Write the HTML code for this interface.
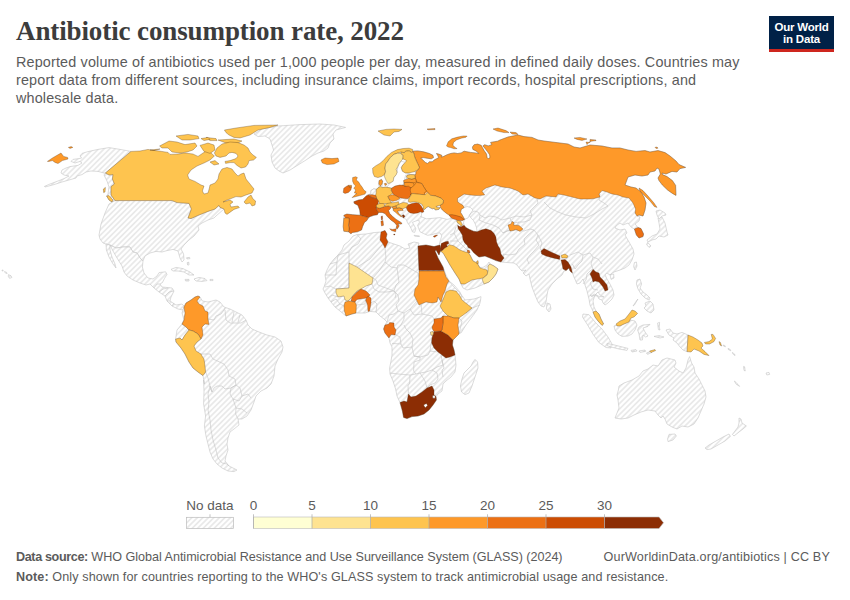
<!DOCTYPE html>
<html lang="en">
<head>
<meta charset="utf-8">
<title>Antibiotic consumption rate, 2022</title>
<style>
html,body{margin:0;padding:0;background:#fff;}
body{width:850px;height:600px;position:relative;overflow:hidden;font-family:"Liberation Sans",sans-serif;color:#5b5b5b;}
#title{position:absolute;left:16px;top:15.4px;font-family:"Liberation Serif",serif;font-weight:bold;font-size:27px;line-height:32px;color:#3c3c3c;white-space:nowrap;letter-spacing:-0.11px;}
#sub{position:absolute;left:16px;top:53px;font-size:14.4px;line-height:18px;color:#5b5b5b;white-space:nowrap;letter-spacing:0.155px;}
#logo{position:absolute;left:769px;top:16px;width:65px;height:33px;background:#002147;border-bottom:3px solid #ce261e;color:#fff;font-weight:bold;font-size:11.5px;line-height:12px;text-align:center;letter-spacing:-0.2px;}
#logo span{display:block;}
#logo span:first-child{margin-top:4.5px;}
.foot{position:absolute;left:16px;font-size:12.6px;line-height:16px;color:#5b5b5b;white-space:nowrap;}
.foot b{font-weight:bold;}
#f1 b{letter-spacing:-0.37px;}
#f1{top:548.5px;}
#f2{top:568.5px;letter-spacing:0.11px;}
#f3{top:548.5px;left:auto;right:20px;letter-spacing:0.17px;}
#map{position:absolute;left:0;top:0;}
.lg{font-size:13.5px;fill:#5b5b5b;font-family:"Liberation Sans",sans-serif;}
</style>
</head>
<body>
<div id="title">Antibiotic consumption rate, 2022</div>
<div id="sub">Reported volume of antibiotics used per 1,000 people per day, measured in defined daily doses. Countries may<br>report data from different sources, including insurance claims, import records, hospital prescriptions, and<br>wholesale data.</div>
<div id="logo"><span>Our World</span><span>in Data</span></div>
<svg id="map" width="850" height="600" viewBox="0 0 850 600">
<defs>
<pattern id="hatch" width="11" height="11" patternUnits="userSpaceOnUse">
<rect width="11" height="11" fill="#fff"/>
<path d="M-1 1l2-2M-1 6.5l7.5-7.5M-1 12l13-13M4.5 12l7.5-7.5M10 12l2-2" stroke="#e9e9e9" stroke-width="1.6" fill="none"/>
</pattern>
</defs>
<g id="countries" stroke="#c4c4c4" stroke-width="0.6" stroke-linejoin="round">
<!--MAP-->
<path d="M131.0 151.4L120.0 149.4L109.0 147.6L98.0 149.4L88.0 151.6L82.0 153.4L80.0 156.0L81.6 158.0L79.0 158.6L73.0 159.4L71.0 161.4L75.0 163.0L80.0 161.4L82.0 163.0L78.0 165.4L70.0 166.6L66.0 168.0L62.0 170.0L61.0 173.0L64.0 175.0L69.0 176.0L64.0 178.6L58.0 181.0L50.0 184.0L44.4 186.4L45.0 187.0L54.0 184.6L62.0 182.0L69.0 180.0L76.0 178.0L77.0 176.0L82.0 174.6L86.0 172.0L91.0 171.0L98.0 171.4L104.0 173.0L105.4 173.0Z" fill="url(#hatch)"/>
<path d="M105.4 173.0L109.0 175.0L113.0 174.6L112.4 179.0L114.4 184.0L111.0 186.6L111.0 195.0L115.0 200.6L112.0 202.2L109.0 200.0L106.6 196.0L108.0 194.0L109.0 187.0L107.0 181.0L104.0 175.0Z" fill="url(#hatch)"/>
<path d="M254.0 134.0L262.0 129.0L278.0 126.0L300.0 124.6L320.0 124.0L334.0 125.0L345.6 127.4L336.0 130.0L333.0 134.0L334.0 139.0L330.0 143.0L328.0 148.0L324.0 151.0L318.0 153.0L312.0 156.0L306.0 160.0L298.0 165.0L290.0 170.0L283.0 173.0L279.0 171.0L275.0 168.0L272.0 162.0L271.0 155.0L273.6 150.0L272.0 145.0L270.0 139.0L265.0 136.0L258.0 136.6Z" fill="url(#hatch)"/>
<path d="M115.0 200.6L109.0 204.0L105.0 213.0L101.0 224.0L99.4 233.0L99.0 235.0L100.0 239.0L103.0 243.0L106.0 244.0L110.0 245.0L116.0 248.0L123.0 247.0L130.0 247.0L133.0 252.0L137.0 253.0L140.0 258.0L143.0 261.0L145.0 256.0L150.0 253.0L156.0 251.4L162.0 252.0L167.0 250.6L173.0 249.4L178.0 251.0L180.0 258.0L182.0 262.0L184.0 260.0L183.6 254.0L181.0 249.0L184.0 245.0L189.0 240.0L194.0 236.0L199.0 230.0L198.0 226.0L202.0 223.0L208.0 220.0L214.0 218.0L216.0 216.0L224.0 209.0L220.0 207.4L219.0 205.4L215.0 209.0L208.0 211.4L199.0 215.0L191.0 218.6L188.0 218.0L191.4 209.0L189.0 203.4L177.0 202.6L172.0 200.6L150.0 200.6Z" fill="url(#hatch)"/>
<path d="M106.0 244.0L106.4 250.0L109.0 257.0L113.0 264.0L116.0 268.0L115.0 264.0L112.0 257.0L110.0 250.0L110.0 245.0L113.0 251.0L117.0 258.0L122.0 266.0L124.0 272.0L127.0 276.0L133.0 280.0L140.0 283.0L146.0 285.0L150.0 284.0L154.0 288.0L159.0 292.0L165.0 296.0L167.0 301.0L172.0 306.0L178.0 309.0L183.0 310.0L184.0 307.0L185.0 307.0L182.0 304.0L176.0 305.0L170.0 301.0L171.0 297.0L174.0 291.0L172.0 288.0L162.0 287.0L160.0 284.0L162.4 282.6L164.4 278.6L167.0 274.4L165.6 271.8L159.0 272.6L157.0 276.0L153.0 279.0L148.0 278.0L144.0 273.0L142.4 267.0L143.0 261.0L140.0 258.0L137.0 253.0L133.0 252.0L130.0 247.0L123.0 247.0L116.0 248.0L110.0 245.0Z" fill="url(#hatch)"/>
<path d="M171.0 269.4L176.0 267.4L183.0 268.6L190.0 272.0L194.0 275.0L189.0 275.0L184.0 272.0L178.0 271.0L173.0 271.0Z" fill="url(#hatch)"/>
<path d="M194.0 279.0L199.0 277.4L205.0 278.6L207.0 280.6L202.0 281.4L196.0 281.0Z" fill="url(#hatch)"/>
<path d="M185.0 279.4L189.0 279.4L189.0 281.0L185.6 281.0Z" fill="url(#hatch)"/>
<path d="M210.0 279.4L213.0 279.4L213.0 280.6L210.0 280.6Z" fill="url(#hatch)"/>
<path d="M186.4 257.8L189.6 257.4L190.0 258.6L187.2 259.0Z" fill="url(#hatch)"/>
<path d="M187.2 262.6L188.8 262.2L189.0 265.0L187.6 265.0Z" fill="url(#hatch)"/>
<path d="M184.0 307.0L186.0 303.0L191.0 300.0L195.0 297.0L198.0 296.0L200.0 297.0L202.4 301.0L208.0 302.0L216.0 300.0L220.0 302.0L224.0 307.0L230.0 309.0L236.0 312.0L242.0 315.0L246.0 320.0L248.0 325.0L252.0 329.0L259.0 332.0L267.0 335.0L275.0 337.0L281.0 341.0L283.0 347.0L282.0 352.0L278.0 359.0L275.0 366.0L274.0 376.0L271.0 384.0L271.0 384.0L267.0 388.0L261.0 391.0L256.0 396.0L254.0 402.0L251.0 410.0L247.0 416.0L242.0 419.0L238.0 419.0L239.0 425.0L234.0 429.0L230.0 432.0L228.0 438.0L227.0 444.0L228.0 450.0L226.0 456.0L225.0 461.0L229.0 466.0L237.0 470.0L234.0 471.6L228.0 471.0L222.0 468.0L217.0 464.0L213.0 459.0L210.0 452.0L208.0 444.0L206.0 436.0L204.4 426.0L205.6 416.0L203.6 404.0L204.0 392.0L203.6 380.0L204.4 384.0L203.0 375.6L198.0 372.0L193.0 368.0L189.0 362.0L185.0 354.0L181.0 348.0L176.0 342.0L175.6 339.0L177.0 330.0L182.0 324.0L184.0 320.0L182.0 313.0Z" fill="url(#hatch)"/>
<path d="M357.0 234.6L366.0 234.0L374.0 232.6L381.0 232.0L385.0 230.6L387.0 234.0L386.0 238.0L388.0 242.0L394.0 244.0L400.0 246.0L405.0 249.0L410.0 248.0L408.0 244.0L414.0 242.0L419.0 243.0L418.0 246.0L426.0 245.0L434.0 246.6L440.0 245.0L441.0 249.0L439.0 255.0L436.0 250.0L435.0 251.0L438.0 258.0L443.0 267.0L446.0 275.0L449.0 281.0L454.0 287.0L459.0 292.0L463.0 297.0L465.0 300.0L474.0 299.0L480.0 297.0L481.0 296.6L480.6 300.0L480.0 303.0L477.0 310.0L472.0 317.0L466.0 325.0L461.0 333.0L459.0 333.0L453.0 340.0L452.4 345.0L454.0 350.0L455.0 355.0L456.0 365.0L455.0 372.0L451.0 377.0L446.0 381.0L443.0 384.0L442.0 391.0L438.0 394.0L436.0 396.6L436.4 400.0L433.0 405.0L429.0 410.0L424.0 414.0L418.0 416.0L412.0 416.6L407.0 418.6L403.6 417.4L402.4 411.0L401.0 406.0L400.0 402.6L397.0 396.0L395.6 389.0L393.0 381.0L390.0 374.0L389.6 368.0L391.0 361.0L392.0 355.0L392.0 347.0L390.0 343.0L389.0 338.0L385.0 333.0L383.6 329.0L385.0 325.0L387.0 322.0L384.0 319.0L380.0 316.0L376.0 312.0L370.0 311.4L365.0 313.0L356.0 313.0L352.0 314.0L346.0 316.0L340.0 311.0L335.0 307.0L331.0 302.0L328.0 298.0L325.0 293.0L323.0 289.0L324.0 287.0L326.0 281.0L325.0 275.0L327.0 270.0L330.0 264.0L334.0 259.0L338.0 255.0L342.0 250.0L344.0 245.0L349.0 241.0L353.0 236.0Z" fill="url(#hatch)"/>
<path d="M475.0 359.4L477.6 362.0L478.0 368.0L475.0 377.0L472.0 386.0L469.0 393.0L465.0 394.6L461.6 392.0L460.4 386.0L462.0 379.0L464.0 373.0L467.0 370.0L471.0 366.0L473.0 362.0Z" fill="url(#hatch)"/>
<path d="M370.9 190.6L373.8 188.8L376.2 189.4L376.2 192.4L375.6 195.3L372.6 194.7L370.9 193.5Z" fill="url(#hatch)"/>
<path d="M399.1 201.2L403.2 200.0L407.9 200.0L409.1 201.2L405.6 202.9L400.9 203.5L399.1 202.4Z" fill="url(#hatch)"/>
<path d="M343.8 218.2L343.8 215.3L346.8 214.1L352.6 214.7L360.3 215.3L359.7 210.0L357.9 205.3L354.4 203.5L353.8 201.8L358.5 200.0L362.6 199.4L366.2 195.9L368.5 194.7L370.9 193.5L370.9 190.6L373.8 188.8L376.2 189.4L379.1 187.1L378.8 184.1L379.1 180.6L381.5 179.4L382.6 181.2L382.1 184.1L382.1 187.6L385.6 187.1L388.5 187.6L391.5 188.2L395.0 186.5L399.1 185.3L402.6 185.3L402.4 185.1L403.5 180.6L406.5 179.2L406.5 177.1L407.1 175.3L410.6 174.5L414.7 174.7L415.9 174.1L415.9 171.8L414.1 171.8L412.9 151.2L417.6 150.9L423.5 151.8L429.4 153.5L432.9 155.3L433.5 157.6L431.2 158.8L427.1 158.2L423.5 157.6L420.6 158.2L422.9 160.0L425.3 162.4L427.6 163.5L429.4 161.8L432.4 161.8L434.1 160.0L436.5 158.8L438.8 157.6L437.6 155.3L436.5 153.5L438.8 154.1L441.8 155.3L441.2 157.1L443.5 156.5L447.1 154.7L450.6 153.5L454.1 152.9L457.6 153.5L461.2 152.9L464.1 151.2L467.1 151.8L470.6 152.4L475.3 152.9L478.8 153.5L476.5 151.2L472.9 149.4L472.4 147.1L474.1 144.7L477.6 144.1L481.2 145.3L482.4 147.6L484.1 150.6L486.5 154.1L487.1 157.6L488.2 158.8L490.0 157.6L489.6 154.7L487.6 151.8L485.3 148.8L482.9 145.9L484.7 144.7L488.2 145.9L491.8 144.7L490.6 142.4L494.1 141.8L497.6 141.2L500.0 140.0L508.0 137.0L518.0 135.0L524.0 136.6L532.0 137.4L538.0 140.0L544.0 141.0L552.0 142.0L560.0 143.0L568.0 144.0L574.0 147.0L580.0 148.0L590.0 145.0L590.0 145.0L602.0 146.0L612.0 148.0L620.0 148.0L628.0 150.0L636.0 151.4L645.0 150.6L650.0 152.0L658.0 150.6L665.0 152.6L670.0 156.0L676.0 161.0L679.0 164.6L685.6 167.4L680.0 168.6L677.0 172.0L672.0 171.4L666.0 174.0L662.0 173.0L662.4 174.6L667.0 176.6L672.4 180.6L675.6 185.4L676.0 195.4L672.4 193.4L667.6 190.0L662.4 185.0L659.0 180.6L658.0 178.0L660.4 174.0L659.0 169.0L657.0 168.0L655.0 171.0L650.0 172.0L648.0 175.0L642.0 176.0L635.0 175.0L628.0 177.0L625.0 185.0L631.0 187.0L636.0 188.0L641.0 192.0L644.0 197.0L646.0 203.0L645.0 210.0L643.0 216.0L639.0 215.0L637.0 216.0L640.0 217.0L639.0 221.0L635.0 224.0L638.0 227.4L641.0 228.6L643.6 234.0L643.0 236.6L639.0 238.0L636.4 235.0L634.4 229.0L631.0 227.0L628.0 223.0L623.0 225.0L620.0 223.0L616.0 226.0L615.0 228.0L620.0 230.0L625.0 229.0L627.0 233.0L625.0 235.0L629.0 242.0L633.0 249.0L634.0 254.0L632.0 260.0L629.0 265.0L625.0 268.0L620.0 270.0L614.0 272.0L611.0 274.0L610.0 275.0L607.0 273.0L605.0 275.0L607.0 279.0L610.0 284.0L613.0 290.0L614.0 295.0L612.0 299.0L608.0 303.0L605.0 305.0L603.0 303.0L602.0 300.0L599.0 299.0L597.0 295.0L594.0 294.0L592.0 297.0L590.0 295.0L604.0 297.0L600.0 295.0L598.0 292.0L595.0 295.0L593.0 301.0L594.0 307.0L596.0 311.0L599.0 314.0L601.0 319.0L603.6 324.0L602.0 325.4L598.0 321.0L595.0 317.0L592.0 309.0L590.0 305.0L589.0 299.0L587.0 291.0L585.0 285.0L583.0 279.0L580.0 283.0L577.0 284.0L574.0 277.0L572.4 273.0L570.0 271.0L569.0 268.0L566.0 270.6L564.0 271.0L562.0 275.0L557.0 279.0L552.0 284.0L548.0 290.0L547.0 295.0L546.0 302.0L544.0 307.0L541.0 306.0L538.0 302.0L535.0 295.0L532.0 287.0L530.0 279.0L529.0 274.0L526.0 276.0L523.0 273.0L526.0 270.0L522.0 271.0L520.0 269.0L517.0 265.0L514.0 263.0L508.0 262.6L501.0 262.0L496.0 260.6L490.0 258.0L485.0 256.0L479.0 257.0L475.0 254.0L472.0 249.0L469.0 247.0L467.0 250.0L470.0 255.0L473.0 261.0L477.0 263.0L480.0 267.4L483.0 267.4L487.0 265.0L489.0 262.0L490.0 264.0L494.0 266.0L498.0 269.0L496.0 274.0L493.0 278.0L489.0 282.0L484.0 284.0L475.0 288.0L467.0 290.0L463.0 288.0L461.0 284.0L459.0 279.0L455.0 273.0L450.0 265.0L446.0 258.0L442.0 248.0L440.6 251.2L439.4 248.8L439.4 244.1L440.6 239.4L441.8 235.9L440.0 232.9L435.3 233.5L431.8 234.7L427.6 235.3L423.5 233.5L420.0 231.8L418.8 228.8L417.6 225.3L419.4 222.4L418.8 220.0L415.3 221.2L412.4 222.4L414.1 225.3L415.9 228.8L414.7 232.4L412.4 231.8L411.2 228.8L409.4 225.3L407.6 222.9L406.5 220.0L404.7 218.2L403.2 218.0L402.1 216.5L399.1 214.1L397.4 211.2L395.0 211.8L393.2 208.8L392.1 207.1L390.9 207.1L390.3 208.8L388.5 210.6L389.7 213.5L392.6 216.5L396.2 219.4L400.9 222.4L402.1 223.5L400.3 224.1L397.9 223.5L399.1 225.9L397.4 228.8L396.2 228.2L396.8 225.3L394.4 222.4L390.9 220.0L387.4 216.5L385.0 213.5L382.1 212.4L378.5 212.4L377.4 214.7L373.8 215.3L370.3 216.5L368.5 217.6L366.8 220.6L364.4 222.4L362.6 226.5L361.5 230.0L357.4 231.8L352.6 232.4L350.9 233.8L348.5 231.8L343.8 231.2L343.2 226.5Z" fill="url(#hatch)"/>
<path d="M547.0 303.0L550.0 304.0L551.0 309.0L549.0 312.0L546.4 309.0Z" fill="url(#hatch)"/>
<path d="M610.0 274.6L613.6 274.0L614.0 278.0L611.0 279.4Z" fill="url(#hatch)"/>
<path d="M634.4 262.6L636.4 262.0L637.0 266.0L635.0 270.0L633.6 266.6Z" fill="url(#hatch)"/>
<path d="M658.0 218.0L662.0 217.0L665.0 223.0L667.0 232.0L668.0 235.0L664.0 237.0L659.0 236.0L656.0 239.0L652.0 240.0L648.0 242.0L647.0 240.0L652.0 236.0L657.0 234.0L660.0 229.0L659.0 223.0Z" fill="url(#hatch)"/>
<path d="M647.6 242.4L651.0 246.0L649.0 247.4L646.6 244.6Z" fill="url(#hatch)"/>
<path d="M656.0 211.0L660.0 210.0L665.0 213.0L666.0 215.0L662.0 216.0L659.0 219.0L657.0 215.0Z" fill="url(#hatch)"/>
<path d="M637.0 280.0L640.0 279.0L641.6 284.0L640.0 288.0L643.0 292.0L647.0 295.0L650.0 298.0L649.0 300.0L645.0 298.0L641.0 294.0L638.0 289.0L636.4 284.0Z" fill="url(#hatch)"/>
<path d="M633.0 306.0L637.0 300.0L638.0 299.0L634.4 305.0Z" fill="url(#hatch)"/>
<path d="M645.0 303.0L650.0 301.0L653.0 304.0L654.0 310.0L651.0 313.0L647.0 311.0L644.0 308.0L646.0 306.0Z" fill="url(#hatch)"/>
<path d="M414.1 235.3L419.4 235.9L419.4 236.6L414.7 236.2Z" fill="url(#hatch)"/>
<path d="M614.0 326.0L617.0 325.0L620.0 325.6L626.0 323.0L630.0 320.0L635.0 321.0L637.0 325.0L635.0 330.0L632.0 334.0L628.0 336.0L622.0 336.4L618.0 334.0L615.0 330.0Z" fill="url(#hatch)"/>
<path d="M583.0 314.0L589.0 314.7L595.5 322.6L602.0 329.0L608.0 337.0L612.0 344.0L611.0 348.0L606.0 347.5L598.8 342.4L593.0 334.2L587.2 324.3L582.5 317.0Z" fill="url(#hatch)"/>
<path d="M607.0 343.6L612.0 344.4L620.0 346.4L628.0 348.4L627.0 350.4L619.0 349.0L611.0 347.0L607.0 345.6Z" fill="url(#hatch)"/>
<path d="M639.0 327.0L643.0 325.0L650.0 324.4L648.0 326.4L643.0 328.0L645.0 332.0L648.0 336.0L645.6 337.0L643.0 335.0L642.4 340.0L640.0 340.0L639.0 334.0L637.6 330.0Z" fill="url(#hatch)"/>
<path d="M631.0 350.4L636.0 349.6L637.0 351.0L632.0 352.0Z" fill="url(#hatch)"/>
<path d="M639.0 351.0L645.0 350.0L645.6 351.4L640.0 352.4Z" fill="url(#hatch)"/>
<path d="M646.4 353.0L650.0 351.6L651.6 352.4L647.6 354.4Z" fill="url(#hatch)"/>
<path d="M657.6 323.0L659.6 322.4L659.2 327.0L660.0 330.0L658.4 329.6Z" fill="url(#hatch)"/>
<path d="M654.0 336.4L659.0 335.6L664.0 337.0L660.0 338.0Z" fill="url(#hatch)"/>
<path d="M666.0 330.0L670.0 329.0L673.0 333.0L677.0 334.0L682.0 332.4L688.0 335.0L687.6 343.0L687.0 351.6L683.0 350.0L680.0 347.0L677.0 343.0L673.0 340.0L674.0 338.0L669.0 335.0Z" fill="url(#hatch)"/>
<path d="M619.0 386.0L624.0 383.0L632.0 380.0L639.0 376.0L643.0 371.0L648.0 369.0L653.0 365.0L658.0 366.0L662.0 360.0L667.0 358.0L675.0 360.0L676.0 363.0L674.0 367.0L679.0 371.0L683.0 373.0L686.0 368.0L688.0 360.0L689.6 356.6L691.6 363.0L694.0 367.0L695.0 373.0L699.0 379.0L702.0 385.0L705.0 391.0L706.0 397.0L704.0 404.0L701.0 411.0L698.0 418.0L694.0 424.0L688.0 427.0L682.0 426.0L677.0 429.0L672.0 427.0L667.0 424.0L665.0 419.0L663.0 416.0L661.0 418.0L658.0 415.0L655.0 411.0L648.0 410.0L641.0 412.0L634.0 415.0L628.0 418.0L621.0 419.0L615.0 418.0L617.0 413.0L619.0 408.0L618.0 400.0L617.0 395.0L618.4 390.0Z" fill="url(#hatch)"/>
<path d="M669.0 434.4L675.0 434.0L676.4 436.0L673.0 440.0L668.0 441.6L667.6 439.0Z" fill="url(#hatch)"/>
<path d="M739.0 418.0L741.0 419.0L742.0 423.0L746.4 426.0L743.0 429.0L739.0 432.0L734.0 436.0L732.4 434.4L735.0 431.0L738.0 427.0L739.0 423.0Z" fill="url(#hatch)"/>
<path d="M729.0 434.0L730.4 436.4L725.0 441.0L718.0 445.0L711.0 449.0L707.0 449.6L705.0 448.0L709.0 445.0L716.0 441.0L723.0 437.0Z" fill="url(#hatch)"/>
<path d="M734.4 381.0L738.0 384.4L739.6 386.4L736.0 384.0Z" fill="url(#hatch)"/>
<path d="M723.0 345.0L725.0 345.6L725.4 346.8L723.4 346.0Z" fill="url(#hatch)"/>
<path d="M728.0 348.4L730.4 349.6L730.8 350.8L728.4 349.6Z" fill="url(#hatch)"/>
<path d="M732.4 352.4L734.8 354.4L735.0 355.6L732.6 353.6Z" fill="url(#hatch)"/>
<path d="M743.6 366.4L744.6 366.8L745.2 371.0L744.0 370.4Z" fill="url(#hatch)"/>
<path d="M766.0 373.0L769.0 372.4L769.6 374.4L766.8 375.0Z" fill="url(#hatch)"/>
<path d="M8.4 274.6L11.0 275.8L12.0 277.4L9.6 278.4L8.4 276.6Z" fill="url(#hatch)"/>
<path d="M4.4 271.6L6.4 272.2L7.2 273.4L5.6 273.2Z" fill="url(#hatch)"/>
<path d="M2.0 270.0L3.2 270.2L3.0 271.0L2.0 270.8Z" fill="url(#hatch)"/>
<path d="M464.1 220.0L464.7 219.4L462.4 215.3L460.6 212.4L461.2 209.4L464.1 207.6L467.1 206.5L470.6 207.6L472.9 210.0L470.6 213.5L469.4 215.9L471.2 218.2L473.5 220.6L475.3 224.1L476.5 227.6L477.1 231.8L473.5 231.2L469.4 229.4L465.9 227.6L464.1 225.3L463.5 222.9Z" fill="#fff"/>
<path d="M421.2 216.5L421.8 212.4L423.5 211.8L422.9 208.8L424.7 209.4L426.5 207.6L428.2 206.5L430.0 207.6L432.4 208.8L434.1 208.2L435.3 210.0L438.8 209.4L440.0 207.6L440.6 207.6L442.4 210.0L445.9 212.9L449.4 215.3L450.6 216.8L452.4 218.2L447.1 219.4L440.0 217.6L434.1 218.2L426.5 218.8L420.6 216.5Z" fill="#fff"/>
<path d="M386.8 187.1L390.3 182.9L393.8 177.6L397.1 172.4L397.9 166.5L400.9 161.2L405.6 162.4L403.2 164.7L401.5 167.6L402.6 171.2L405.6 172.9L410.3 174.1L405.6 175.3L404.4 180.0L403.2 185.3L399.1 185.3L395.0 186.5L391.5 188.2Z" fill="#fff"/>
<path d="M154.0 288.0L157.0 284.0L160.0 284.0" fill="none"/>
<path d="M159.0 292.0L163.0 289.0L168.0 288.0" fill="none"/>
<path d="M165.0 296.0L169.0 292.0L174.0 291.0" fill="none"/>
<path d="M167.0 301.0L170.0 301.0" fill="none"/>
<path d="M172.0 306.0L174.0 303.0" fill="none"/>
<path d="M182.0 324.0L186.0 327.0L189.0 330.0L185.0 335.0L182.0 340.0L180.0 338.0" fill="none"/>
<path d="M208.0 319.0L214.0 320.0L216.0 316.0L221.0 314.0L224.0 310.0L225.0 308.0" fill="none"/>
<path d="M225.0 310.0L226.0 320.0L230.0 323.0L241.0 323.0L246.0 320.0" fill="none"/>
<path d="M234.0 312.0L232.0 322.0" fill="none"/>
<path d="M240.0 315.0L238.0 322.0" fill="none"/>
<path d="M201.0 354.0L210.0 354.0L213.0 359.0L224.0 364.0L228.0 370.0L229.0 376.0L235.0 379.0L236.0 385.0L231.0 388.0L225.0 389.0L222.0 386.0L217.0 386.0L214.0 388.0L212.0 392.0" fill="none"/>
<path d="M205.6 372.0L208.0 378.0L210.0 386.0L212.0 392.0" fill="none"/>
<path d="M231.0 388.0L236.0 385.0L240.0 388.0L242.0 396.0L239.0 401.0L233.0 399.0L230.0 394.0L231.0 388.0" fill="none"/>
<path d="M242.0 396.0L248.0 394.0L251.0 398.0" fill="none"/>
<path d="M212.0 392.0L210.0 386.0L208.0 394.0L209.0 402.0L208.0 410.0L210.0 420.0L211.0 430.0L213.0 440.0L216.0 450.0L218.0 458.0L222.0 463.0L227.0 464.0L229.0 466.0" fill="none"/>
<path d="M236.0 408.0L242.0 409.0L247.0 413.0" fill="none"/>
<path d="M236.0 408.0L235.6 414.0L238.0 419.0" fill="none"/>
<path d="M233.0 399.0L236.0 408.0" fill="none"/>
<path d="M392.0 343.4L401.0 344.0L403.0 348.0L412.0 347.0L414.0 356.0L420.0 357.0L420.0 360.0L414.0 362.0L413.6 371.0L416.0 374.0L410.0 375.0L398.0 374.0L390.0 373.0" fill="none"/>
<path d="M410.0 375.0L409.6 384.0L408.0 385.0L408.4 394.0" fill="none"/>
<path d="M416.0 374.0L420.0 373.0L425.0 381.0L427.0 388.0" fill="none"/>
<path d="M420.0 373.0L426.0 372.0L432.0 370.0L437.0 373.0L438.0 379.0L435.0 383.0L430.0 385.0L427.0 388.0" fill="none"/>
<path d="M414.0 356.0L420.0 357.0L428.0 355.0L430.0 351.0L438.0 352.0" fill="none"/>
<path d="M432.0 370.0L437.0 367.0L443.0 365.0L442.0 360.0L441.0 355.0" fill="none"/>
<path d="M442.0 360.0L444.0 368.0L442.0 370.0L443.0 377.0" fill="none"/>
<path d="M442.0 355.0L446.0 358.0" fill="none"/>
<path d="M401.0 344.0L400.0 337.0L394.0 334.0" fill="none"/>
<path d="M412.0 347.0L413.0 339.0L410.0 333.0L406.0 329.0L404.0 325.0" fill="none"/>
<path d="M430.0 351.0L431.0 344.0L432.0 338.0" fill="none"/>
<path d="M357.0 234.6L361.0 239.0L358.0 244.0L352.0 247.0L349.0 252.0L338.0 255.0" fill="none"/>
<path d="M349.0 252.0L349.0 263.0" fill="none"/>
<path d="M338.0 255.0L337.0 262.0L330.0 264.0" fill="none"/>
<path d="M349.0 263.0L349.0 288.0L336.0 289.0" fill="none"/>
<path d="M357.0 267.0L362.0 264.0L370.0 259.0L380.0 247.0L383.0 244.0" fill="none"/>
<path d="M385.0 248.0L386.0 258.0L385.0 262.0L391.0 267.0L397.0 268.0L398.0 265.0L404.0 265.0L418.0 273.0" fill="none"/>
<path d="M385.0 262.0L379.0 271.0L373.0 278.0" fill="none"/>
<path d="M397.0 268.0L399.0 282.0L396.0 285.0L394.0 291.0" fill="none"/>
<path d="M418.0 273.0L419.0 279.0" fill="none"/>
<path d="M418.0 246.0L419.0 270.6" fill="none"/>
<path d="M373.0 278.0L376.0 280.0L378.0 285.0L394.0 291.0L396.0 294.0L395.0 298.0" fill="none"/>
<path d="M394.0 291.0L398.0 295.0L399.0 301.0L396.0 305.0L398.0 311.0L394.0 314.0L389.0 315.0L387.0 322.0" fill="none"/>
<path d="M372.0 284.0L374.0 289.0L379.0 292.0L387.0 292.0L394.0 291.0" fill="none"/>
<path d="M371.0 303.0L374.0 301.0L377.0 304.0L376.0 312.0" fill="none"/>
<path d="M398.0 311.0L404.0 313.0L410.0 309.0L417.0 301.0" fill="none"/>
<path d="M410.0 309.0L414.0 315.0L422.0 314.0L432.0 316.0L434.0 319.0" fill="none"/>
<path d="M404.0 313.0L404.0 319.0L401.0 325.0L396.0 330.0" fill="none"/>
<path d="M422.0 314.0L421.0 304.0" fill="none"/>
<path d="M325.0 275.0L336.0 275.0L337.0 262.0" fill="none"/>
<path d="M325.0 287.0L330.0 286.0L336.0 289.0" fill="none"/>
<path d="M328.0 298.0L332.0 295.0L338.0 297.0" fill="none"/>
<path d="M335.0 307.0L340.0 304.0L344.0 306.0" fill="none"/>
<path d="M331.0 302.0L336.0 299.0L340.0 304.0" fill="none"/>
<path d="M356.4 305.0L365.0 304.0L365.6 300.0" fill="none"/>
<path d="M449.0 281.0L454.0 285.0L460.0 292.0L462.0 297.0" fill="none"/>
<path d="M466.0 313.0L472.0 308.0L480.0 305.0" fill="none"/>
<path d="M459.0 318.0L462.0 321.0L459.0 334.0" fill="none"/>
<path d="M470.0 214.0L474.0 211.0L478.0 212.0L480.0 215.0L485.0 218.0L490.0 216.0L496.0 217.0L502.0 220.0L510.0 218.0L516.0 216.0L524.0 217.0L532.0 215.0L530.0 211.0L534.0 207.0L538.0 203.0L537.0 199.0" fill="none"/>
<path d="M544.0 202.0L550.0 208.0L558.0 212.0L566.0 215.0L576.0 217.0L586.0 218.0L594.0 214.0L602.0 209.0L608.0 206.0L604.0 203.0L599.0 200.0L600.0 194.0" fill="none"/>
<path d="M480.0 215.0L479.0 220.0L486.0 223.0L493.0 225.0L499.0 228.0L503.0 233.0L507.0 231.0L512.0 229.0L516.0 226.0L519.0 222.0" fill="none"/>
<path d="M510.0 218.0L511.0 221.0L514.0 223.0L519.0 222.0L524.0 222.0L530.0 220.0L532.0 215.0" fill="none"/>
<path d="M503.0 233.0L507.0 231.0L516.0 230.0L524.0 231.0L530.0 229.0L534.0 230.0L528.0 235.0L524.0 239.0L525.0 244.0L519.0 249.0L516.0 254.0L508.0 255.0L503.0 254.0L504.0 259.0" fill="none"/>
<path d="M534.0 230.0L538.0 235.0L536.0 240.0L539.0 245.0L534.0 251.0L530.0 255.0L527.0 259.0L529.0 264.0" fill="none"/>
<path d="M538.0 235.0L542.0 243.0L540.0 249.0L544.0 252.0L551.0 251.0" fill="none"/>
<path d="M570.0 255.0L578.0 252.0L583.0 255.0L590.0 253.0L593.0 257.0L591.0 264.0L593.0 269.0L590.0 271.0L587.0 274.0L586.0 280.0L583.0 284.0" fill="none"/>
<path d="M583.0 255.0L582.0 261.0L578.0 265.0L575.0 269.0L572.4 264.0" fill="none"/>
<path d="M593.0 257.0L598.0 259.0L602.0 264.0" fill="none"/>
<path d="M593.0 269.0L596.0 273.0L594.0 279.0L590.0 283.0L593.0 289.0L598.0 290.0" fill="none"/>
<path d="M470.0 214.0L468.0 218.0L462.0 220.0" fill="none"/>
<path d="M456.0 227.0L454.0 233.0L450.0 235.0" fill="none"/>
<path d="M454.0 233.0L458.0 241.0L466.0 249.0L469.0 252.0" fill="none"/>
<path d="M450.0 241.0L458.0 241.0" fill="none"/>
<path d="M411.8 178.8L416.5 178.8L420.6 182.4L427.6 191.8L424.1 194.7L412.9 192.9L407.1 187.1L404.7 182.9Z" fill="#fe9929" stroke="none"/>
<path d="M47.4 161.4L52.4 158.0L61.0 153.0L63.6 156.4L67.6 157.4L68.0 159.0L62.4 160.6L58.0 163.6L55.0 162.4L52.4 160.6L49.0 161.4Z" fill="#fe9929" stroke="rgba(70,45,20,0.5)"/>
<path d="M68.4 147.4L71.2 146.6L72.8 147.4L70.0 148.4Z" fill="#fe9929" stroke="rgba(70,45,20,0.5)"/>
<path d="M105.4 173.0L131.0 151.4L140.0 151.0L148.0 149.4L154.0 150.6L160.0 149.0L150.0 150.0L159.0 151.0L168.0 152.4L170.0 154.4L178.0 154.0L185.0 153.0L193.0 154.0L198.0 156.4L203.0 153.0L209.0 149.4L211.0 153.0L214.4 156.0L210.0 160.0L204.0 163.0L197.0 166.0L191.0 170.0L187.6 175.0L189.0 179.0L195.0 181.4L201.0 185.0L204.0 186.0L202.4 191.0L204.0 194.0L208.0 193.0L209.4 188.0L210.0 185.0L215.0 183.0L218.0 179.0L219.0 174.0L222.0 169.0L227.0 167.4L232.0 169.0L235.0 173.0L238.0 176.0L241.0 174.0L244.0 173.0L246.0 179.0L250.0 184.0L254.0 189.0L252.0 193.0L246.0 195.0L241.0 197.0L236.0 196.6L231.0 198.6L227.0 200.0L223.0 202.0L230.0 200.0L233.0 202.0L230.0 204.4L231.0 207.0L238.0 206.0L239.4 207.6L234.0 209.4L227.0 214.4L225.0 213.0L224.0 209.0L220.0 207.4L219.0 205.4L215.0 209.0L208.0 211.4L199.0 215.0L191.0 218.6L188.0 218.0L191.4 209.0L189.0 203.4L177.0 202.6L172.0 200.6L150.0 200.6L115.0 200.6L111.0 195.0L111.0 186.6L114.4 184.0L112.4 179.0L113.0 174.6L109.0 175.0Z" fill="#fec44f" stroke="rgba(70,45,20,0.5)"/>
<path d="M106.6 196.0L109.0 195.6L113.0 200.0L112.0 202.0L109.0 200.0Z" fill="#fec44f" stroke="rgba(70,45,20,0.5)"/>
<path d="M103.4 189.0L105.4 187.4L105.0 192.0L103.6 192.6Z" fill="#fec44f" stroke="rgba(70,45,20,0.5)"/>
<path d="M244.0 202.0L248.0 197.0L251.0 195.0L253.0 199.0L255.6 201.0L255.0 205.0L252.0 206.0L250.0 203.0L246.0 204.0Z" fill="#fec44f" stroke="rgba(70,45,20,0.5)"/>
<path d="M159.6 146.0L169.0 141.0L177.0 142.0L185.0 144.6L195.0 143.0L197.0 146.0L193.0 150.0L187.0 152.0L180.0 153.0L172.0 152.0L168.0 148.0L162.0 148.0Z" fill="#fec44f" stroke="rgba(70,45,20,0.5)"/>
<path d="M176.0 136.0L188.0 134.4L198.0 136.0L199.0 138.6L190.0 140.0L182.0 140.0Z" fill="#fec44f" stroke="rgba(70,45,20,0.5)"/>
<path d="M206.0 137.4L216.0 138.6L217.0 140.6L210.0 140.6Z" fill="#fec44f" stroke="rgba(70,45,20,0.5)"/>
<path d="M224.4 130.0L236.0 128.0L254.0 125.4L278.0 125.0L270.0 127.4L258.0 130.0L250.0 135.0L240.0 138.0L234.0 137.4L229.0 135.0L226.0 132.6Z" fill="#fec44f" stroke="rgba(70,45,20,0.5)"/>
<path d="M218.0 140.0L234.0 139.0L242.0 141.0L238.0 143.0L226.0 143.0Z" fill="#fec44f" stroke="rgba(70,45,20,0.5)"/>
<path d="M217.0 148.0L222.0 144.0L230.0 142.0L238.0 142.6L244.0 145.0L248.0 148.0L250.0 152.0L253.0 155.0L256.4 157.4L253.6 160.0L249.0 160.6L248.0 164.0L245.6 167.0L241.0 168.0L237.0 165.4L234.0 162.6L230.0 162.6L225.6 163.4L225.0 161.4L230.0 160.6L236.0 158.6L238.0 156.0L236.0 153.4L232.0 152.4L229.0 153.0L226.0 156.0L220.0 157.4L216.0 156.0L214.4 153.0Z" fill="#fec44f" stroke="rgba(70,45,20,0.5)"/>
<path d="M200.0 145.4L208.0 143.0L214.0 145.0L215.0 150.0L210.0 153.4L204.0 151.4Z" fill="#fec44f" stroke="rgba(70,45,20,0.5)"/>
<path d="M201.0 138.6L208.0 137.4L210.0 139.4L204.0 140.6Z" fill="#fec44f" stroke="rgba(70,45,20,0.5)"/>
<path d="M210.0 162.0L215.0 160.6L219.0 164.0L214.0 165.0Z" fill="#fec44f" stroke="rgba(70,45,20,0.5)"/>
<path d="M321.0 160.0L325.0 158.0L332.0 158.6L338.0 158.0L339.0 161.4L334.0 164.0L327.0 164.6L322.4 163.0Z" fill="#fe9929" stroke="rgba(70,45,20,0.5)"/>
<path d="M378.0 131.0L386.0 129.4L394.0 129.0L402.0 129.4L399.0 131.4L394.0 132.0L390.0 136.0L384.0 135.0Z" fill="#fec44f" stroke="rgba(70,45,20,0.5)"/>
<path d="M198.0 296.0L200.0 297.0L197.0 301.0L199.0 304.0L203.0 306.0L205.0 311.0L208.0 312.0L208.0 319.0L209.0 324.4L205.0 324.0L202.0 327.0L203.0 335.0L201.0 339.0L198.0 334.0L193.0 331.0L189.0 330.0L186.0 327.0L182.0 324.0L184.0 320.0L185.0 313.0L184.0 307.0L186.0 303.0L191.0 300.0L195.0 297.0Z" fill="#fe9929" stroke="rgba(70,45,20,0.5)"/>
<path d="M189.0 330.0L193.0 331.0L198.0 334.0L201.0 339.0L197.0 342.0L194.0 346.0L196.0 351.0L201.0 354.0L202.0 356.0L204.0 359.0L205.0 366.0L205.6 372.0L203.0 375.6L198.0 372.0L193.0 368.0L189.0 362.0L185.0 354.0L181.0 348.0L176.0 342.0L175.6 339.0L180.0 338.0L182.0 340.0L185.0 335.0Z" fill="#fec44f" stroke="rgba(70,45,20,0.5)"/>
<path d="M434.0 331.4L441.0 331.0L448.0 335.0L453.0 340.0L452.4 345.0L454.0 350.0L455.0 355.0L450.0 357.0L446.0 358.0L442.0 355.0L438.0 352.0L434.0 348.0L431.6 343.0L432.0 338.0L433.0 334.0Z" fill="#8c2d04" stroke="rgba(70,45,20,0.5)"/>
<path d="M430.4 332.0L433.0 331.6L433.6 334.6L431.0 335.4Z" fill="#fee391" stroke="rgba(70,45,20,0.5)"/>
<path d="M400.0 402.6L404.0 401.0L407.0 402.0L408.4 394.0L411.0 397.0L416.0 396.0L422.0 392.0L427.0 388.0L432.0 386.0L434.0 390.0L434.0 395.0L436.0 396.6L436.4 400.0L433.0 405.0L429.0 410.0L424.0 414.0L418.0 416.0L412.0 416.6L407.0 418.6L403.6 417.4L402.4 411.0L401.0 406.0Z" fill="#8c2d04" stroke="rgba(70,45,20,0.5)"/>
<path d="M381.0 232.0L385.0 230.6L387.0 234.0L386.0 238.0L388.0 242.0L385.0 248.0L383.0 244.0L380.0 240.0Z" fill="#cc4c02" stroke="rgba(70,45,20,0.5)"/>
<path d="M418.0 246.0L426.0 245.0L434.0 246.6L440.0 245.0L441.0 249.0L439.0 255.0L436.0 250.0L435.0 251.0L438.0 258.0L443.0 267.0L444.0 270.6L419.0 270.6Z" fill="#8c2d04" stroke="rgba(70,45,20,0.5)"/>
<path d="M419.0 271.0L444.0 271.0L446.0 277.0L449.0 281.0L447.0 284.0L445.0 291.0L443.0 295.0L441.0 302.0L438.0 297.0L437.0 302.0L432.0 303.0L426.0 302.0L421.0 304.0L419.0 305.0L417.0 301.0L414.0 295.0L415.0 289.0L418.0 285.0L419.0 279.0Z" fill="#fe9929" stroke="rgba(70,45,20,0.5)"/>
<path d="M446.0 292.0L450.0 290.0L456.0 291.0L460.0 296.0L462.0 300.0L472.0 308.0L466.0 313.0L459.0 318.0L454.0 318.0L448.0 316.0L443.0 311.0L440.0 306.0L442.0 302.0L444.0 297.0Z" fill="#fec44f" stroke="rgba(70,45,20,0.5)"/>
<path d="M443.0 316.0L448.0 316.0L454.0 318.0L459.0 318.0L458.0 325.0L459.0 334.0L453.0 340.0L448.0 335.0L441.0 331.0L442.0 330.0L443.0 323.0Z" fill="#fe9929" stroke="rgba(70,45,20,0.5)"/>
<path d="M434.0 319.0L441.0 318.0L443.0 316.0L443.0 323.0L442.0 330.0L441.0 331.0L434.0 331.4L432.4 329.0L432.0 327.0L434.0 323.0Z" fill="#ec7014" stroke="rgba(70,45,20,0.5)"/>
<path d="M349.0 263.0L357.0 267.0L373.0 278.0L372.0 284.0L366.0 286.0L361.0 289.0L357.0 291.0L354.0 294.0L351.0 298.0L348.0 301.0L345.0 300.0L344.0 296.0L338.0 297.0L336.0 293.0L336.0 289.0L349.0 288.0Z" fill="#fee391" stroke="rgba(70,45,20,0.5)"/>
<path d="M361.0 289.0L366.0 291.0L370.0 295.0L367.0 298.0L363.0 298.6L357.0 299.4L355.0 302.0L351.0 301.0L352.0 297.0L357.0 292.0Z" fill="#ec7014" stroke="rgba(70,45,20,0.5)"/>
<path d="M345.0 302.0L349.0 301.0L355.0 302.0L356.4 305.0L356.0 313.0L352.0 314.0L346.0 316.0L344.4 311.0L344.0 306.0Z" fill="#fe9929" stroke="rgba(70,45,20,0.5)"/>
<path d="M368.0 296.0L371.0 298.0L371.0 303.0L369.6 311.0L368.0 311.4L367.6 305.0L365.6 300.0Z" fill="#ec7014" stroke="rgba(70,45,20,0.5)"/>
<path d="M385.0 325.0L389.0 324.0L389.6 322.6L394.0 323.0L394.0 327.0L396.0 330.0L395.0 335.0L391.0 334.6L389.0 338.0L385.0 333.0L383.6 329.0Z" fill="#ec7014" stroke="rgba(70,45,20,0.5)"/>
<path d="M412.9 151.2L417.6 150.9L423.5 151.8L429.4 153.5L432.9 155.3L433.5 157.6L431.2 158.8L427.1 158.2L423.5 157.6L420.6 158.2L422.9 160.0L425.3 162.4L427.6 163.5L429.4 161.8L432.4 161.8L434.1 160.0L436.5 158.8L438.8 157.6L437.6 155.3L436.5 153.5L438.8 154.1L441.8 155.3L441.2 157.1L443.5 156.5L447.1 154.7L450.6 153.5L454.1 152.9L457.6 153.5L461.2 152.9L464.1 151.2L467.1 151.8L470.6 152.4L475.3 152.9L478.8 153.5L476.5 151.2L472.9 149.4L472.4 147.1L474.1 144.7L477.6 144.1L481.2 145.3L482.4 147.6L484.1 150.6L486.5 154.1L487.1 157.6L488.2 158.8L490.0 157.6L489.6 154.7L487.6 151.8L485.3 148.8L482.9 145.9L484.7 144.7L488.2 145.9L491.8 144.7L490.6 142.4L494.1 141.8L497.6 141.2L500.0 140.0L508.0 137.0L518.0 135.0L524.0 136.6L532.0 137.4L538.0 140.0L544.0 141.0L552.0 142.0L560.0 143.0L568.0 144.0L574.0 147.0L580.0 148.0L590.0 145.0L590.0 145.0L602.0 146.0L612.0 148.0L620.0 148.0L628.0 150.0L636.0 151.4L645.0 150.6L650.0 152.0L658.0 150.6L665.0 152.6L670.0 156.0L676.0 161.0L679.0 164.6L685.6 167.4L680.0 168.6L677.0 172.0L672.0 171.4L666.0 174.0L662.0 173.0L662.4 174.6L667.0 176.6L672.4 180.6L675.6 185.4L676.0 195.4L672.4 193.4L667.6 190.0L662.4 185.0L659.0 180.6L658.0 178.0L660.4 174.0L659.0 169.0L657.0 168.0L655.0 171.0L650.0 172.0L648.0 175.0L642.0 176.0L635.0 175.0L628.0 177.0L625.0 185.0L631.0 187.0L636.0 188.0L641.0 192.0L644.0 197.0L646.0 203.0L645.0 210.0L643.0 216.0L639.0 215.0L637.0 216.0L635.0 213.0L635.6 209.0L633.0 203.0L629.0 198.0L623.0 197.0L618.0 195.0L612.0 194.0L607.0 192.0L602.0 190.6L599.0 194.0L600.0 197.0L594.0 198.6L590.0 199.0L580.0 199.0L572.0 197.0L564.0 195.0L558.0 194.0L556.0 197.0L546.0 196.0L540.0 199.0L535.0 198.0L528.0 194.0L523.0 195.0L518.0 191.0L510.0 188.0L502.0 187.0L495.0 185.0L486.0 188.0L482.0 191.0L482.4 191.8L484.7 194.9L478.8 195.6L472.9 195.3L468.2 194.7L464.1 194.1L461.2 195.9L457.6 198.2L457.6 201.8L460.0 203.5L462.9 205.3L464.1 207.6L461.2 209.4L460.6 212.4L462.4 215.3L464.7 219.4L464.1 220.0L461.2 217.6L456.5 216.5L451.8 215.3L449.4 215.3L445.9 212.9L442.4 210.0L440.6 207.6L440.0 205.3L442.9 203.5L443.5 200.6L441.2 198.2L435.3 195.9L430.6 195.3L427.6 192.4L426.5 191.2L423.5 186.5L421.8 183.5L419.4 182.9L416.5 181.8L415.9 179.4L415.3 178.2L414.7 175.3L415.9 174.1L415.9 171.8L417.6 170.0L419.4 167.6L418.2 164.7L416.5 161.2L414.7 157.1L414.1 154.1Z" fill="#fe9929" stroke="rgba(70,45,20,0.5)"/>
<path d="M446.5 145.9L448.2 141.8L451.8 138.8L457.6 137.1L463.5 135.9L467.1 136.1L465.9 137.3L461.2 138.2L456.5 140.0L453.5 142.4L452.9 145.3L455.3 147.6L457.1 148.6L454.1 148.8L450.6 147.6L448.2 147.1Z" fill="#fe9929" stroke="rgba(70,45,20,0.5)"/>
<path d="M493.0 129.0L498.0 128.0L506.0 130.6L509.0 132.6L504.0 132.6L497.0 131.0Z" fill="#fe9929" stroke="rgba(70,45,20,0.5)"/>
<path d="M510.0 132.0L516.0 132.6L518.0 134.4L512.0 134.0Z" fill="#fe9929" stroke="rgba(70,45,20,0.5)"/>
<path d="M427.0 129.0L435.0 128.6L435.0 129.6L428.0 129.8Z" fill="#fe9929" stroke="rgba(70,45,20,0.5)"/>
<path d="M574.0 138.0L580.0 137.4L587.0 139.0L582.0 140.4L577.0 139.4Z" fill="#fe9929" stroke="rgba(70,45,20,0.5)"/>
<path d="M586.0 142.0L590.0 142.6L590.0 139.4L596.0 140.0L596.0 140.6L590.0 141.4L587.0 144.6Z" fill="#fe9929" stroke="rgba(70,45,20,0.5)"/>
<path d="M639.0 188.0L643.0 190.6L648.0 196.0L654.0 203.0L657.0 207.4L654.4 206.6L650.0 201.0L644.0 195.0L640.0 191.0Z" fill="#fe9929" stroke="rgba(70,45,20,0.5)"/>
<path d="M655.0 147.4L657.0 147.0L658.0 148.2L656.0 148.4Z" fill="#fe9929" stroke="rgba(70,45,20,0.5)"/>
<path d="M372.6 168.2L375.6 165.9L379.7 163.5L383.2 160.6L386.8 156.5L391.5 152.4L397.4 149.6L403.2 148.5L409.1 148.2L412.6 149.4L412.6 151.8L411.5 152.4L409.1 150.8L405.6 151.2L404.4 152.7L400.9 152.1L397.4 153.2L393.8 154.4L390.3 157.6L387.9 161.2L385.6 164.1L385.0 168.2L385.6 171.8L384.4 174.7L381.5 176.5L377.9 177.6L374.4 176.5L372.9 172.9Z" fill="#fec44f" stroke="rgba(70,45,20,0.5)"/>
<path d="M385.6 164.1L387.9 161.2L390.3 157.6L393.8 154.4L397.4 153.2L400.9 153.5L403.2 155.3L403.0 158.8L400.9 161.2L399.1 163.5L397.9 166.5L396.2 169.4L397.1 172.4L396.2 174.7L393.8 177.6L393.2 181.2L390.3 182.9L387.9 183.5L386.2 180.6L384.4 176.5L384.4 174.7L385.6 171.8L385.0 168.2Z" fill="#fee391" stroke="rgba(70,45,20,0.5)"/>
<path d="M404.4 152.7L405.6 151.2L409.1 150.8L411.5 152.4L412.6 151.8L414.1 154.1L414.7 157.1L416.5 161.2L418.2 164.7L419.4 167.6L417.6 170.0L414.1 171.8L408.8 172.9L405.3 172.9L402.4 171.2L401.2 167.6L402.9 164.7L405.3 162.4L406.5 160.6L404.1 159.4L402.6 158.8L403.0 158.8L403.2 155.3L400.9 153.5L400.9 152.1Z" fill="#fec44f" stroke="rgba(70,45,20,0.5)"/>
<path d="M407.1 175.3L410.6 174.5L414.7 174.7L415.3 178.2L411.8 179.4L408.2 178.5L406.5 177.1Z" fill="#fec44f" stroke="rgba(70,45,20,0.5)"/>
<path d="M403.5 180.6L406.5 179.2L408.2 178.5L411.8 179.4L415.3 178.2L416.5 181.8L413.5 182.9L409.4 182.4L405.9 182.4L404.1 182.9Z" fill="#fe9929" stroke="rgba(70,45,20,0.5)"/>
<path d="M404.1 182.9L405.9 182.4L409.4 182.4L413.5 182.9L414.1 185.3L411.8 187.6L408.8 188.2L406.5 187.1L404.1 185.3Z" fill="#fe9929" stroke="rgba(70,45,20,0.5)"/>
<path d="M402.4 185.1L404.1 185.3L406.5 187.1L402.9 187.4Z" fill="#fe9929" stroke="rgba(70,45,20,0.5)"/>
<path d="M408.8 188.2L411.8 187.6L414.1 185.3L416.5 182.4L419.4 182.9L421.8 183.5L423.5 186.5L426.5 191.2L424.1 192.9L425.3 194.7L421.8 194.5L417.6 194.1L412.9 193.5L410.0 194.5L409.4 191.2Z" fill="#fe9929" stroke="rgba(70,45,20,0.5)"/>
<path d="M391.2 188.5L395.0 186.1L399.7 185.1L403.2 185.3L404.4 186.5L408.5 186.2L410.5 187.6L410.3 190.8L411.2 193.9L409.7 197.1L407.9 198.8L404.4 198.6L400.9 197.9L397.9 197.3L395.0 195.5L392.6 193.5L391.2 190.8Z" fill="#ec7014" stroke="rgba(70,45,20,0.5)"/>
<path d="M376.2 189.4L379.1 187.1L380.9 186.5L382.1 187.6L385.6 187.1L388.5 187.6L391.5 188.2L391.2 190.6L392.6 192.9L390.3 195.3L387.9 196.5L389.7 200.0L391.5 202.4L389.1 204.1L385.6 203.5L382.1 204.1L379.7 203.5L378.5 201.2L376.8 198.8L375.6 195.3L376.2 192.4Z" fill="#fec44f" stroke="rgba(70,45,20,0.5)"/>
<path d="M379.1 180.6L381.5 179.4L382.6 181.2L382.1 184.1L380.3 185.9L378.8 184.1Z" fill="#fe9929" stroke="rgba(70,45,20,0.5)"/>
<path d="M384.4 183.5L386.2 183.3L386.8 184.7L385.0 185.6Z" fill="#fe9929" stroke="rgba(70,45,20,0.5)"/>
<path d="M369.1 194.7L372.6 194.7L375.6 195.3L376.8 198.8L373.8 198.2L370.9 197.1Z" fill="#ec7014" stroke="rgba(70,45,20,0.5)"/>
<path d="M352.6 177.6L355.6 176.7L357.4 177.6L356.2 180.0L358.5 181.8L360.3 184.7L362.1 187.1L363.8 190.0L366.2 191.8L365.0 194.1L360.9 195.3L356.2 196.5L352.1 197.6L354.4 195.3L356.8 193.5L354.4 192.9L355.6 190.0L353.8 188.2L355.6 185.9L353.8 184.1L352.6 181.2Z" fill="#fe9929" stroke="rgba(70,45,20,0.5)"/>
<path d="M348.5 185.3L351.5 185.3L351.5 187.1L349.1 187.1Z" fill="#fe9929" stroke="rgba(70,45,20,0.5)"/>
<path d="M343.8 188.2L346.2 186.5L348.5 185.3L349.1 187.1L351.5 187.1L350.9 190.0L348.5 192.4L345.0 193.5L343.2 192.4Z" fill="#ec7014" stroke="rgba(70,45,20,0.5)"/>
<path d="M387.9 196.5L390.3 195.3L392.6 194.7L395.0 195.3L398.5 197.1L399.7 198.8L396.2 200.6L392.6 201.2L389.7 200.0Z" fill="#fe9929" stroke="rgba(70,45,20,0.5)"/>
<path d="M353.8 201.8L358.5 200.0L362.6 199.4L366.2 195.9L368.5 194.7L370.9 197.1L373.8 198.2L376.8 198.8L378.5 201.2L377.9 204.1L376.2 207.1L376.8 210.0L378.5 212.4L377.4 214.7L373.8 215.3L370.3 216.5L368.5 217.6L364.4 216.5L360.3 215.3L359.7 210.0L357.9 205.3L354.4 203.5Z" fill="#cc4c02" stroke="rgba(70,45,20,0.5)"/>
<path d="M381.1 216.5L382.4 215.9L382.6 219.4L381.5 220.0Z" fill="#cc4c02" stroke="rgba(70,45,20,0.5)"/>
<path d="M343.8 215.3L346.8 214.1L352.6 214.7L360.3 215.3L364.4 216.5L368.5 217.6L366.8 220.6L364.4 222.4L362.6 226.5L361.5 230.0L357.4 231.8L352.6 232.4L350.9 233.8L348.5 231.8L349.1 228.8L348.5 225.3L349.1 220.6L349.1 218.2L345.6 218.0Z" fill="#ec7014" stroke="rgba(70,45,20,0.5)"/>
<path d="M343.8 218.2L345.6 218.0L349.1 218.2L349.1 220.6L348.5 225.3L349.1 228.8L348.5 231.8L343.8 231.2L343.2 226.5Z" fill="#fe9929" stroke="rgba(70,45,20,0.5)"/>
<path d="M376.2 207.1L379.7 208.2L384.4 206.5L388.5 205.9L390.9 207.1L390.3 208.8L388.5 210.6L389.7 213.5L392.6 216.5L396.2 219.4L400.9 222.4L402.1 223.5L400.3 224.1L397.9 223.5L399.1 225.9L397.4 228.8L396.2 228.2L396.8 225.3L394.4 222.4L390.9 220.0L387.4 216.5L385.0 213.5L382.1 212.4L378.5 212.4L376.8 210.0Z" fill="#ec7014" stroke="rgba(70,45,20,0.5)"/>
<path d="M389.7 228.8L392.6 229.4L396.2 228.8L395.6 231.8L391.5 230.6Z" fill="#ec7014" stroke="rgba(70,45,20,0.5)"/>
<path d="M380.9 221.2L383.0 220.6L383.5 225.3L381.5 225.9Z" fill="#ec7014" stroke="rgba(70,45,20,0.5)"/>
<path d="M376.2 205.3L379.1 203.5L383.2 203.5L385.0 205.3L383.2 207.1L379.7 208.2L376.8 207.6Z" fill="#fec44f" stroke="rgba(70,45,20,0.5)"/>
<path d="M385.0 205.3L386.8 203.5L390.9 202.9L395.0 202.4L398.5 201.8L399.1 204.1L396.2 205.9L392.1 207.1L388.5 205.9L385.0 206.5Z" fill="#fec44f" stroke="rgba(70,45,20,0.5)"/>
<path d="M392.1 207.1L396.2 205.9L396.8 208.2L393.2 208.8Z" fill="#fe9929" stroke="rgba(70,45,20,0.5)"/>
<path d="M393.2 208.8L396.8 208.2L399.1 207.6L402.6 208.8L403.2 210.6L399.7 210.6L397.4 211.2L399.1 214.1L402.1 216.5L400.9 216.8L397.4 214.1L395.0 211.8L393.2 210.6Z" fill="#fe9929" stroke="rgba(70,45,20,0.5)"/>
<path d="M396.2 205.9L399.1 204.1L403.2 202.4L406.8 202.9L408.5 204.7L406.2 207.6L402.6 208.8L399.1 207.6L396.8 208.2Z" fill="#fec44f" stroke="rgba(70,45,20,0.5)"/>
<path d="M402.1 215.3L403.8 214.7L405.0 216.5L403.2 218.0Z" fill="#8c2d04" stroke="rgba(70,45,20,0.5)"/>
<path d="M406.2 207.6L408.5 204.7L412.1 203.5L416.2 202.7L419.1 203.5L421.5 206.5L423.2 209.4L423.8 211.8L422.1 212.4L420.3 211.8L417.9 212.9L413.8 213.5L410.3 212.9L407.9 211.2Z" fill="#cc4c02" stroke="rgba(70,45,20,0.5)"/>
<path d="M393.8 234.1L394.8 234.1L394.8 234.9L393.8 234.9Z" fill="#8c2d04" stroke="rgba(70,45,20,0.5)"/>
<path d="M408.8 198.8L411.2 194.7L410.0 194.5L412.9 193.5L417.6 194.1L421.8 194.5L425.3 194.7L427.6 192.4L430.6 195.3L435.3 195.9L441.2 198.2L443.5 200.6L442.9 203.5L440.0 205.3L435.9 206.5L437.6 207.6L440.0 207.6L438.8 209.4L435.3 210.0L434.1 208.2L432.4 208.8L430.0 207.6L428.2 206.5L426.5 207.6L424.7 209.4L422.9 208.8L423.5 207.1L421.8 204.1L417.6 202.4L413.5 201.8L410.0 202.4L408.2 201.2Z" fill="#fec44f" stroke="rgba(70,45,20,0.5)"/>
<path d="M449.2 214.9L452.4 214.7L456.5 215.6L461.2 217.1L464.1 219.4L462.9 220.4L460.0 220.6L457.6 220.4L455.3 219.6L452.9 218.8L450.6 217.3Z" fill="#ec7014" stroke="rgba(70,45,20,0.5)"/>
<path d="M456.5 220.8L458.2 220.4L460.6 221.2L461.8 223.5L462.4 225.3L460.9 225.9L459.4 224.1L457.6 222.9Z" fill="#fec44f" stroke="rgba(70,45,20,0.5)"/>
<path d="M433.2 236.5L435.3 235.3L437.6 234.9L436.5 236.1L434.7 237.3Z" fill="#cc4c02" stroke="rgba(70,45,20,0.5)"/>
<path d="M457.6 225.3L459.4 226.5L461.2 226.7L464.1 225.3L465.9 227.6L469.4 229.4L473.5 231.2L477.1 231.8L481.2 230.0L485.9 228.8L491.2 230.6L494.1 233.5L495.9 237.1L496.5 241.8L498.2 245.9L500.0 248.8L501.0 254.0L504.0 258.0L501.0 262.0L496.0 260.6L490.0 258.0L485.0 256.0L479.0 257.0L477.6 255.9L473.5 252.4L470.6 248.8L468.2 247.6L467.1 245.3L464.7 242.9L462.9 239.4L462.4 235.3L460.0 231.2L458.2 228.8Z" fill="#8c2d04" stroke="rgba(70,45,20,0.5)"/>
<path d="M467.6 250.0L469.4 250.6L470.0 252.9L468.0 252.4L467.1 251.2Z" fill="#ec7014" stroke="rgba(70,45,20,0.5)"/>
<path d="M441.2 243.5L445.3 241.8L448.2 241.2L448.8 243.5L446.5 244.7L447.6 246.5L444.7 248.2L442.4 250.6L440.6 251.2L440.9 246.5Z" fill="#8c2d04" stroke="rgba(70,45,20,0.5)"/>
<path d="M440.6 251.2L442.4 250.6L444.7 248.2L447.6 246.5L449.4 244.7L454.1 245.9L460.0 250.0L464.7 251.8L468.0 252.6L470.0 255.0L473.0 261.0L477.0 263.0L480.0 268.0L487.0 270.0L488.0 274.0L483.0 278.0L472.0 280.0L465.0 284.0L461.0 284.0L459.0 279.0L455.0 273.0L450.0 265.0L446.0 258.0L443.0 253.0Z" fill="#fec44f" stroke="rgba(70,45,20,0.5)"/>
<path d="M488.0 266.0L490.0 264.0L494.0 266.0L498.0 269.0L496.0 274.0L493.0 278.0L489.0 282.0L484.0 284.0L482.0 279.0L487.0 275.0L488.0 271.0Z" fill="#fee391" stroke="rgba(70,45,20,0.5)"/>
<path d="M476.6 261.4L478.0 260.6L478.4 263.4L477.0 263.6Z" fill="#fec44f" stroke="rgba(70,45,20,0.5)"/>
<path d="M508.0 225.0L511.0 224.0L512.0 221.4L514.0 222.6L513.6 225.0L519.0 225.4L523.0 229.0L520.0 231.4L516.0 229.4L513.0 230.6L510.0 231.0L509.0 228.0Z" fill="#fe9929" stroke="rgba(70,45,20,0.5)"/>
<path d="M541.0 251.0L544.0 248.6L551.0 252.0L560.0 256.0L559.6 259.4L553.0 258.0L546.0 256.0L541.6 254.0Z" fill="#8c2d04" stroke="rgba(70,45,20,0.5)"/>
<path d="M561.0 255.4L565.0 254.0L568.0 256.0L567.0 258.0L562.0 258.0Z" fill="#fec44f" stroke="rgba(70,45,20,0.5)"/>
<path d="M561.0 260.0L565.0 259.4L568.0 262.0L571.0 267.0L572.4 273.0L570.0 271.0L569.0 268.0L566.0 270.6L563.0 269.0L562.0 264.0Z" fill="#8c2d04" stroke="rgba(70,45,20,0.5)"/>
<path d="M590.0 274.0L593.0 269.4L596.0 272.0L599.0 273.0L600.0 277.0L603.0 280.0L607.0 285.0L608.0 290.0L605.0 291.0L603.0 287.0L599.0 282.0L595.0 281.0L593.0 282.0L592.0 278.0Z" fill="#8c2d04" stroke="rgba(70,45,20,0.5)"/>
<path d="M593.0 312.0L596.0 311.0L599.0 314.0L601.0 319.0L603.6 324.0L602.0 325.4L598.0 321.0L595.0 317.0Z" fill="#fec44f" stroke="rgba(70,45,20,0.5)"/>
<path d="M616.0 324.0L620.0 321.0L625.0 319.0L629.0 314.0L632.0 310.0L635.0 311.0L637.6 313.4L634.0 317.0L631.0 318.0L629.0 322.0L624.0 324.0L620.0 326.0L617.0 326.0Z" fill="#fec44f" stroke="rgba(70,45,20,0.5)"/>
<path d="M634.4 229.0L638.0 227.4L641.0 228.6L643.6 234.0L643.0 236.6L639.0 238.0L636.4 235.0Z" fill="#ec7014" stroke="rgba(70,45,20,0.5)"/>
<path d="M688.0 335.0L693.0 337.0L698.0 340.0L702.0 343.0L703.0 346.0L701.0 348.0L705.0 351.6L709.0 355.6L704.0 354.4L699.0 351.0L694.0 349.0L691.0 352.0L687.0 351.6L687.6 343.0Z" fill="#fec44f" stroke="rgba(70,45,20,0.5)"/>
<path d="M704.4 342.4L709.0 341.6L712.4 339.0L711.2 334.4L713.0 334.4L715.6 338.4L714.0 341.6L709.6 344.0L705.6 344.0Z" fill="#fec44f" stroke="rgba(70,45,20,0.5)"/>
<path d="M719.0 341.6L720.4 342.4L721.6 346.0L720.0 345.0Z" fill="#fec44f" stroke="rgba(70,45,20,0.5)"/>
<path d="M649.6 351.0L655.0 349.6L655.6 350.6L651.0 352.6Z" fill="#fec44f" stroke="rgba(70,45,20,0.5)"/>
<path d="M423.6 405.0L426.4 403.4L427.6 405.4L425.2 407.8Z" fill="#fff" stroke="rgba(70,45,20,0.5)"/>
<path d="M432.6 395.4L435.0 395.4L435.2 398.2L432.8 398.2Z" fill="#fff" stroke="rgba(70,45,20,0.5)"/>
<!--/MAP-->
</g>
<g id="legend">
<text class="lg" x="210" y="510" text-anchor="middle">No data</text>
<line x1="210" y1="514.3" x2="210" y2="517.3" stroke="#a9a9a9" stroke-width="0.7"/>
<rect x="186.5" y="517.3" width="47" height="11.2" fill="url(#hatch)" stroke="#bbb" stroke-width="0.7"/>
<rect x="253.5" y="517" width="58.5" height="11.5" fill="#ffffd4"/>
<rect x="312" y="517" width="58.5" height="11.5" fill="#fee391"/>
<rect x="370.5" y="517" width="58.5" height="11.5" fill="#fec44f"/>
<rect x="429" y="517" width="58.5" height="11.5" fill="#fe9929"/>
<rect x="487.5" y="517" width="58.5" height="11.5" fill="#ec7014"/>
<rect x="546" y="517" width="58.5" height="11.5" fill="#cc4c02"/>
<path d="M604.5 517H659L663.5 522.75L659 528.5H604.5Z" fill="#8c2d04"/>
<path d="M253.5 517H659L663.5 522.75L659 528.5H253.5Z" fill="none" stroke="#bbb" stroke-width="0.6"/>
<g stroke="#a9a9a9" stroke-width="0.7">
<line x1="253.5" y1="514.3" x2="253.5" y2="528.5"/><line x1="312" y1="514.3" x2="312" y2="528.5"/><line x1="370.5" y1="514.3" x2="370.5" y2="528.5"/><line x1="429" y1="514.3" x2="429" y2="528.5"/><line x1="487.5" y1="514.3" x2="487.5" y2="528.5"/><line x1="546" y1="514.3" x2="546" y2="528.5"/><line x1="604.5" y1="514.3" x2="604.5" y2="528.5"/>
</g>
<g class="lg" text-anchor="middle">
<text x="253.5" y="510">0</text><text x="312" y="510">5</text><text x="370.5" y="510">10</text><text x="429" y="510">15</text><text x="487.5" y="510">20</text><text x="546" y="510">25</text><text x="604.5" y="510">30</text>
</g>
</g>
</svg>
<div class="foot" id="f1"><b>Data source:</b><span style="letter-spacing:-0.025px"> WHO Global Antimicrobial Resistance and Use Surveillance System (GLASS) (2024)</span></div>
<div class="foot" id="f3">OurWorldinData.org/antibiotics | CC BY</div>
<div class="foot" id="f2"><b>Note:</b> Only shown for countries reporting to the WHO's GLASS system to track antimicrobial usage and resistance.</div>
</body>
</html>
